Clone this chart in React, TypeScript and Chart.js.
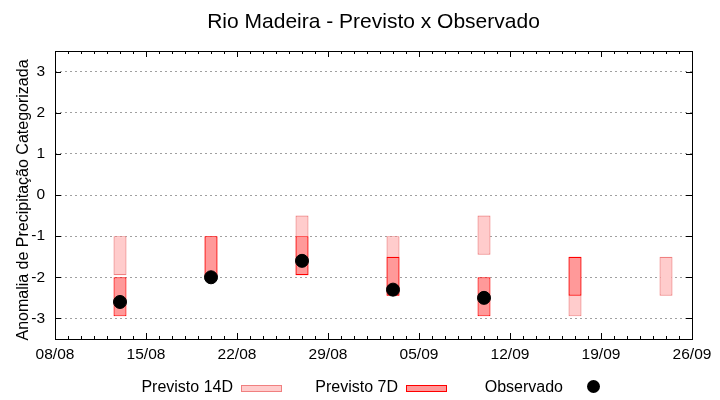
import React, { useEffect, useRef } from 'react';
import { Chart, registerables } from 'chart.js';

Chart.register(...registerables);

const chartTitle = 'Rio Madeira - Previsto x Observado';
const yAxisTitle = 'Anomalia de Precipitação Categorizada';
const legendLabels = ['Previsto 14D', 'Previsto 7D', 'Observado'];

const xTickLabels = ['08/08', '15/08', '22/08', '29/08', '05/09', '12/09', '19/09', '26/09'];
const yTickValues = [-3, -2, -1, 0, 1, 2, 3];
const yRange = [-3.5, 3.5];

const forecastDates = ['13/08', '20/08', '27/08', '03/09', '10/09', '17/09', '24/09'];
const previsto14DHigh = [-1, -1, -0.5, -1, -0.5, -1.5, -1.5];
const previsto14DLow = [-1.95, -1.95, -1.95, -2.45, -1.45, -2.95, -2.45];
const previsto7DHigh: (number | null)[] = [-2, -1, -1, -1.5, -2, -1.5, null];
const previsto7DLow: (number | null)[] = [-2.95, -2, -1.95, -2.45, -2.95, -2.45, null];
const observado: (number | null)[] = [-2.6, -2, -1.6, -2.3, -2.5, null, null];

const FONT = "'Liberation Sans', Arial, sans-serif";
const C14_FILL = '#ffcccc';
const C14_BORDER = '#f08080';
const C7_FILL = '#ff9999';
const C7_BORDER = '#ff0000';

function dayIndex(label: string): number {
  const [d, m] = label.split('/').map(Number);
  const [d0, m0] = xTickLabels[0].split('/').map(Number);
  return Math.round((Date.UTC(2000, m - 1, d) - Date.UTC(2000, m0 - 1, d0)) / 86400000);
}

const xMin = dayIndex(xTickLabels[0]);
const xMax = dayIndex(xTickLabels[xTickLabels.length - 1]);
const xStep = dayIndex(xTickLabels[1]) - xMin;

function floatData(lows: (number | null)[], highs: (number | null)[]) {
  const out: { x: number; y: [number, number] }[] = [];
  forecastDates.forEach((d, i) => {
    const lo = lows[i];
    const hi = highs[i];
    if (lo !== null && hi !== null) out.push({ x: dayIndex(d), y: [lo, hi] });
  });
  return out;
}

function pointData(vals: (number | null)[]) {
  const out: { x: number; y: number }[] = [];
  forecastDates.forEach((d, i) => {
    const v = vals[i];
    if (v !== null) out.push({ x: dayIndex(d), y: v });
  });
  return out;
}

const gnuplotDecor = {
  id: 'gnuplotDecor',
  afterDraw(chart: any) {
    const { ctx, chartArea: a, scales } = chart;
    const xs = scales.x;
    const ys = scales.y;
    ctx.save();
    ctx.strokeStyle = '#000';
    ctx.lineWidth = 1;
    ctx.setLineDash([]);
    ctx.beginPath();
    for (let d = xMin; d <= xMax; d++) {
      const px = Math.round(xs.getPixelForValue(d)) + 0.5;
      const len = (d - xMin) % xStep === 0 ? 6 : 3;
      ctx.moveTo(px, a.bottom);
      ctx.lineTo(px, a.bottom - len);
      ctx.moveTo(px, a.top);
      ctx.lineTo(px, a.top + len);
    }
    for (const v of yTickValues) {
      const py = Math.round(ys.getPixelForValue(v)) + 0.5;
      ctx.moveTo(a.left, py);
      ctx.lineTo(a.left + 6, py);
      ctx.moveTo(a.right, py);
      ctx.lineTo(a.right - 6, py);
    }
    ctx.stroke();
    ctx.strokeRect(a.left + 0.5, a.top + 0.5, a.right - a.left, a.bottom - a.top);

    // title
    ctx.fillStyle = '#000';
    ctx.font = `21px ${FONT}`;
    ctx.textAlign = 'center';
    ctx.textBaseline = 'alphabetic';
    ctx.fillText(chartTitle, (a.left + a.right) / 2, 27.5);

    // y title
    ctx.save();
    ctx.translate(27.5, (a.top + a.bottom) / 2 + 5);
    ctx.rotate(-Math.PI / 2);
    ctx.font = `16px ${FONT}`;
    ctx.textAlign = 'center';
    ctx.fillText(yAxisTitle, 0, 0);
    ctx.restore();

    // legend
    const center = (a.left + a.right) / 2;
    const firstRight = center - 140.5;
    const spacing = 165;
    ctx.font = `16px ${FONT}`;
    ctx.textAlign = 'right';
    ctx.textBaseline = 'alphabetic';
    legendLabels.forEach((lab, i) => {
      const tr = firstRight + i * spacing;
      ctx.fillStyle = '#000';
      ctx.fillText(lab, tr, 391.5);
      const bx = tr + 8.5;
      if (i < 2) {
        ctx.fillStyle = i === 0 ? C14_FILL : C7_FILL;
        ctx.strokeStyle = i === 0 ? C14_BORDER : C7_BORDER;
        ctx.fillRect(bx, 385.5, 40, 6);
        ctx.strokeRect(bx, 385.5, 40, 6);
      } else {
        ctx.fillStyle = '#000';
        ctx.beginPath();
        ctx.arc(tr + 30.5, 386.5, 6.5, 0, Math.PI * 2);
        ctx.fill();
      }
    });
    ctx.restore();
  },
};

export default function App() {
  const ref = useRef<HTMLCanvasElement>(null);
  useEffect(() => {
    document.body.style.margin = '0';
    const barCommon = {
      grouped: false,
      borderWidth: 1.2,
      borderSkipped: false,
      categoryPercentage: 1 / xStep,
      barPercentage: 1,
    };
    const chart = new Chart(ref.current as HTMLCanvasElement, {
      type: 'bar',
      data: {
        datasets: [
          {
            ...barCommon,
            type: 'bar',
            label: legendLabels[0],
            data: floatData(previsto14DLow, previsto14DHigh),
            backgroundColor: C14_FILL,
            borderColor: C14_BORDER,
            order: 2,
          },
          {
            ...barCommon,
            type: 'bar',
            label: legendLabels[1],
            data: floatData(previsto7DLow, previsto7DHigh),
            backgroundColor: C7_FILL,
            borderColor: C7_BORDER,
            order: 1,
          },
          {
            type: 'scatter',
            label: legendLabels[2],
            data: pointData(observado),
            backgroundColor: '#000',
            borderColor: '#000',
            pointRadius: 6.5,
            pointBorderWidth: 1,
            order: 0,
          },
        ],
      } as any,
      options: {
        responsive: false,
        animation: false,
        events: [],
        layout: { padding: { top: 51, right: 28, left: 0, bottom: 0 } },
        plugins: {
          legend: { display: false },
          title: { display: false },
          tooltip: { enabled: false },
        },
        scales: {
          x: {
            type: 'linear',
            min: xMin,
            max: xMax,
            offset: false,
            grid: { display: false, offset: false, drawTicks: false },
            border: { display: false },
            afterBuildTicks: (s: any) => {
              s.ticks = xTickLabels.map((l) => ({ value: dayIndex(l) }));
            },
            afterFit: (s: any) => {
              s.height = 61;
            },
            ticks: {
              autoSkip: false,
              maxRotation: 0,
              padding: 6,
              color: '#000',
              font: { family: FONT, size: 15.5 },
              callback: (v: any) => {
                const lab = xTickLabels.find((l) => dayIndex(l) === v);
                return lab ?? '';
              },
            },
          },
          y: {
            type: 'linear',
            min: yRange[0],
            max: yRange[1],
            grid: { color: '#a0a0a0', lineWidth: 1, drawTicks: false },
            border: { display: false, dash: [2, 3] },
            afterBuildTicks: (s: any) => {
              s.ticks = yTickValues.map((v) => ({ value: v }));
            },
            afterFit: (s: any) => {
              s.width = 55;
            },
            ticks: {
              padding: 10,
              color: '#000',
              font: { family: FONT, size: 15.5 },
              callback: (v: any) => String(v),
            },
          },
        },
      } as any,
      plugins: [gnuplotDecor],
    });
    return () => chart.destroy();
  }, []);
  return (
    <div style={{ width: 720, height: 400 }}>
      <canvas ref={ref} width={720} height={400} style={{ display: 'block', width: 720, height: 400 }} />
    </div>
  );
}
